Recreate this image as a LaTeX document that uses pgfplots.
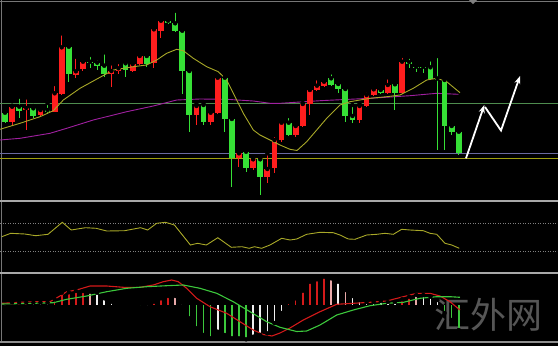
\documentclass[border=0pt]{standalone}
\usepackage{pgfplots}
\pgfplotsset{compat=1.18}
\usepackage{pgfplotstable}
\usepackage{fontspec}
\newfontfamily\cjk{Noto Sans CJK SC}
\usetikzlibrary{arrows.meta}

\definecolor{cred}{HTML}{FF1E1E}
\definecolor{cgreen}{HTML}{36E036}
\definecolor{hred}{HTML}{D41A1A}
\definecolor{hpink}{HTML}{E8A8A8}
\definecolor{hwhite}{HTML}{F0F0F0}
\definecolor{hgreen}{HTML}{3CC83C}
\definecolor{maY}{HTML}{A8A828}
\definecolor{maP}{HTML}{A020A0}
\definecolor{lnG}{HTML}{4E8C4E}
\definecolor{lnP}{HTML}{6A6AA0}
\definecolor{lnY}{HTML}{A0A010}
\definecolor{sep}{HTML}{A8A8A8}

% candles: index, high, body top, body bottom, low (screen units, down = larger)
\pgfplotstableread{
i h bt bb l
2 105.7 106.7 121.7 126
4 97.3 108 110.3 130
6 108 110 115 116
8 84 93.3 111.7 112
9 33.3 47.3 94 95
11 56.7 71.3 74.7 78.3
12 60 61.7 69.3 71
16 63.3 71 74 87.3
17 62 68.3 71 74
19 62 64 70.7 72
20 54 56 64 65
22 28 29.3 63.3 68.3
23 20 20.7 31 38
28 103 106 115 125
30 111 112.7 121.7 125
31 76.7 77.7 112.7 113.7
34 152 153.3 158.3 166.7
36 158 159.3 168.3 170
38 153.3 169 176.7 183.3
39 135 140 168.3 173.3
40 120 122.7 140 142
42 125 126 135 136.7
43 103 104 126 127
44 86.7 90 104 115
45 78.3 85.7 90 91
46 80.7 81.7 85.7 86.7
51 103 106 120 123.3
52 90.7 95 106 107
53 88 89.3 95 96
55 77.3 85 93.3 94
57 56 61.7 93.3 94
}\redc

\pgfplotstableread{
i h bt bb l
1 111 112.7 121.7 123
3 96.7 106.7 111 118
5 106 108.3 116 118
7 103 110 112.3 114
10 44.3 46.7 74.3 81.7
13 55 61.7 63.3 68.3
14 58.3 62.7 65.7 70
15 52.3 65.7 74 76.7
18 61.7 63.3 70 77.3
21 54 56 64 66.7
24 19 20.7 23.3 24
25 10.7 23.3 30.7 32.3
26 30 30.7 71 94.3
27 70 71 115 131.7
29 104 105 121.7 125
32 74 77.7 119 131.7
33 118 119 158.3 186.7
35 150 151.7 168.3 171.7
37 158 159.3 176.7 195
41 116 122.7 135 136
47 72.3 78.3 85 86
48 82 84 89 93.3
49 88 89 116 121.7
50 105 116 120 123.3
54 88 90 93.3 94
56 81.7 84.3 93.3 110
58 56.7 62 63.5 68.3
59 63 66.7 68 71.7
60 65 66.7 68 73.3
61 59.3 67.3 79.3 80
62 56 78.5 80 150
63 78 80 126 150
64 122 126 131.7 135
65 131 131.7 153.3 155
}\greenc

% MACD histogram (zero line at 305)
\pgfplotstableread{
i v
2 302.5
3 302.5
4 302.5
8 299.3
9 292.7
10 292.3
11 291
12 291
22 301.7
23 298.3
24 296
41 302
42 298.3
43 290.7
44 281.7
45 279.3
46 276.7
57 299.3
58 296.7
}\histr
\pgfplotstableread{
i v
13 291.7
25 296
47 278.3
49 290
59 295
}\histp
\pgfplotstableread{
i v
1 307
5 302.5
6 302.5
7 302.5
14 292.7
15 298.3
16 301.7
17 306.5
19 307
21 307
26 303
31 331.7
36 336.7
37 335
38 333.3
39 323
40 313
48 281.7
50 296
51 300
52 302
53 302
54 301
55 302
56 302
60 295
61 296.7
62 300
}\histw
\pgfplotstableread{
i v
18 307
20 307
27 318.3
28 328.3
29 335
30 338.3
32 335
33 338.3
34 338.3
35 339.3
63 313
64 320
65 330
}\histg

\begin{document}
\begin{tikzpicture}
\fill[black] (0,0) rectangle (558pt,346pt);
\begin{axis}[at={(0,0)}, anchor=south west, scale only axis,
  width=558pt, height=346pt, xmin=0, xmax=558, ymin=0, ymax=346,
  y dir=reverse, axis lines=none, ticks=none, clip=true]

% watermark
\node[text=black!55!white, opacity=0.75] at (axis cs:488,315) {\cjk\fontsize{36}{36}\selectfont 汇外网};

% frame and separators
\addplot[sep!70!black, line width=1pt] coordinates {(0,1) (558,1)};
\addplot[sep!70!black, line width=1pt] coordinates {(1,0) (1,343)};
\addplot[sep, line width=2pt] coordinates {(0,201) (558,201)};
\addplot[sep, line width=2pt] coordinates {(0,273) (558,273)};
\addplot[sep!85!black, line width=1.5pt] coordinates {(0,342) (558,342)};
\addplot[fill=gray, draw=none] coordinates {(469,0) (477,0) (473,4)} -- cycle;

% main panel horizontal levels
\addplot[lnG, line width=0.8pt] coordinates {(0,103.3) (558,103.3)};
\addplot[lnP, line width=0.8pt] coordinates {(0,153.7) (558,153.7)};
\addplot[lnY, line width=1.4pt] coordinates {(0,158.7) (558,158.7)};

% purple MA
\addplot[maP, line width=0.9pt] coordinates {
(0,140) (20,138.3) (50,133.3) (66.7,128.3) (93.3,120) (126.7,111.7) (153.3,106)
(176.7,100) (200,99) (226.7,99.3) (253.3,101) (270,103.3) (280,103.3) (320,100.7)
(370,98.3) (410,95.7) (436.7,93.3) (458.3,94.3)};

% candles: wicks and bodies
\addplot[only marks, mark=none, error bars/.cd, y dir=plus, y explicit,
  error mark=none, error bar style={draw=cred, line width=1pt}]
  table[x expr=5+7.09*(\thisrow{i}-1), y=h, y error plus expr=\thisrow{l}-\thisrow{h}] {\redc};
\addplot[only marks, mark=none, error bars/.cd, y dir=plus, y explicit,
  error mark=none, error bar style={draw=cred, line width=5.8pt}]
  table[x expr=5+7.09*(\thisrow{i}-1), y=bt, y error plus expr=\thisrow{bb}-\thisrow{bt}] {\redc};
\addplot[only marks, mark=none, error bars/.cd, y dir=plus, y explicit,
  error mark=none, error bar style={draw=cgreen, line width=1pt}]
  table[x expr=5+7.09*(\thisrow{i}-1), y=h, y error plus expr=\thisrow{l}-\thisrow{h}] {\greenc};
\addplot[only marks, mark=none, error bars/.cd, y dir=plus, y explicit,
  error mark=none, error bar style={draw=cgreen, line width=5.8pt}]
  table[x expr=5+7.09*(\thisrow{i}-1), y=bt, y error plus expr=\thisrow{bb}-\thisrow{bt}] {\greenc};

% yellow MA
\addplot[maY, line width=0.9pt] coordinates {
(0,129.3) (20,123.3) (40,116.7) (53.3,110.7) (63.3,100) (80,88.3) (100,77.3) (113.3,70)
(133.3,66.7) (146.7,65) (156.7,60) (166.7,53.3) (176.7,49.3) (183.3,50.7) (193.3,58.3)
(206.7,66.7) (218.3,71.7) (226.7,80) (233.3,93.3) (243.3,113.3) (253.3,130) (260,135)
(270,140) (280,145) (290,149.3) (297,150.5) (306.7,141.7) (316.7,130) (326.7,118.3)
(340,105) (350,101.7) (370,98.3) (386.7,96.7) (400,95) (413.3,88.3) (426.7,80)
(436.7,78.3) (446.7,81.7) (460,92.7)};

% white forecast arrows
\addplot[white, line width=1.8pt, -{Stealth[length=8pt,width=6pt]}] coordinates {(466,158.3) (484.3,105)};
\addplot[white, line width=1.8pt, line join=miter, -{Stealth[length=8pt,width=6pt]}] coordinates {(485,107) (501,130.5) (520,76)};

% RSI panel
\addplot[gray, line width=0.6pt, dash pattern=on 1pt off 1.5pt] coordinates {(0,223.3) (558,223.3)};
\addplot[gray, line width=0.6pt, dash pattern=on 1pt off 1.5pt] coordinates {(0,251.7) (558,251.7)};
\addplot[maY, line width=0.9pt] coordinates {
(1.8,236.7) (10.7,233.3) (24.9,234) (35.6,235.7) (48,234.3) (62.3,222.3) (71.2,230)
(85.4,227.7) (96.1,228.3) (106.8,231) (124.6,230.7) (140.6,227.7) (147.7,230) (156.6,223.3)
(165.5,222.3) (174.4,225) (190.4,245) (197.5,243.3) (206.4,245) (217.8,237.7) (231.3,247.3)
(242,246.7) (249.1,248.3) (254.4,246.7) (261.6,248.3) (270,245) (281.7,238.3) (290,240)
(296.7,239) (306.7,234.3) (320,232.3) (333.3,232.7) (340,235) (348.3,239) (355,239.3)
(366.7,235) (376.7,234.3) (385,233.3) (393.3,234.3) (401.7,229.3) (410,230) (423.3,230.7)
(430,233.3) (436.7,234.3) (445,243.3) (451.7,245) (459.3,248.3)};

% MACD histogram
\addplot[only marks, mark=none, error bars/.cd, y dir=plus, y explicit, error mark=none,
  error bar style={draw=hred, line width=1.6pt}]
  table[x expr=5+7.09*(\thisrow{i}-1), y=v, y error plus expr=305-\thisrow{v}] {\histr};
\addplot[only marks, mark=none, error bars/.cd, y dir=plus, y explicit, error mark=none,
  error bar style={draw=hpink, line width=1.6pt}]
  table[x expr=5+7.09*(\thisrow{i}-1), y=v, y error plus expr=305-\thisrow{v}] {\histp};
\addplot[only marks, mark=none, error bars/.cd, y dir=plus, y explicit, error mark=none,
  error bar style={draw=hwhite, line width=1.6pt}]
  table[x expr=5+7.09*(\thisrow{i}-1), y=v, y error plus expr=305-\thisrow{v}] {\histw};
\addplot[only marks, mark=none, error bars/.cd, y dir=plus, y explicit, error mark=none,
  error bar style={draw=hgreen, line width=1.6pt}]
  table[x expr=5+7.09*(\thisrow{i}-1), y=v, y error plus expr=305-\thisrow{v}] {\histg};

% MACD lines
\addplot[hred, line width=1.1pt] coordinates {
(2,303.3) (20,302.3) (33.3,301.7) (50,301.7) (61.7,295) (66.7,291.7) (76.7,290) (90,286)
(106.7,286) (123.3,287.3) (140,287.3) (153.3,285) (163.3,281.7) (171.7,280) (178.3,281.7)
(186.7,288.3) (196.7,298.3) (210,306.7) (226.7,313.3) (240,321.7) (253.3,330) (263.3,334.5)
(272,336) (280,333) (290,328) (303.3,320) (320,311.7) (336.7,304.3) (353.3,303.3)
(370,302.3) (386.7,301) (403.3,296.7) (416.7,293.3) (430,293.3) (440,296) (450,301.7) (460,310)};
\addplot[hgreen, line width=1.1pt] coordinates {
(2,304) (33.3,303.3) (53.3,302.7) (66.7,299.3) (86.7,296) (106.7,291.7) (126.7,288.3)
(146.7,286.7) (166.7,285.7) (183.3,285) (200,288.3) (216.7,293.3) (233.3,301.7) (250,311.7)
(266.7,321.7) (280,327.3) (296.7,331.5) (306.7,331) (320,325) (336.7,315) (353.3,310)
(370,305.7) (386.7,303.3) (403.3,302.3) (420,298.3) (436.7,296.7) (450,296.7) (460,297.3)};
\end{axis}
\end{tikzpicture}
\end{document}
